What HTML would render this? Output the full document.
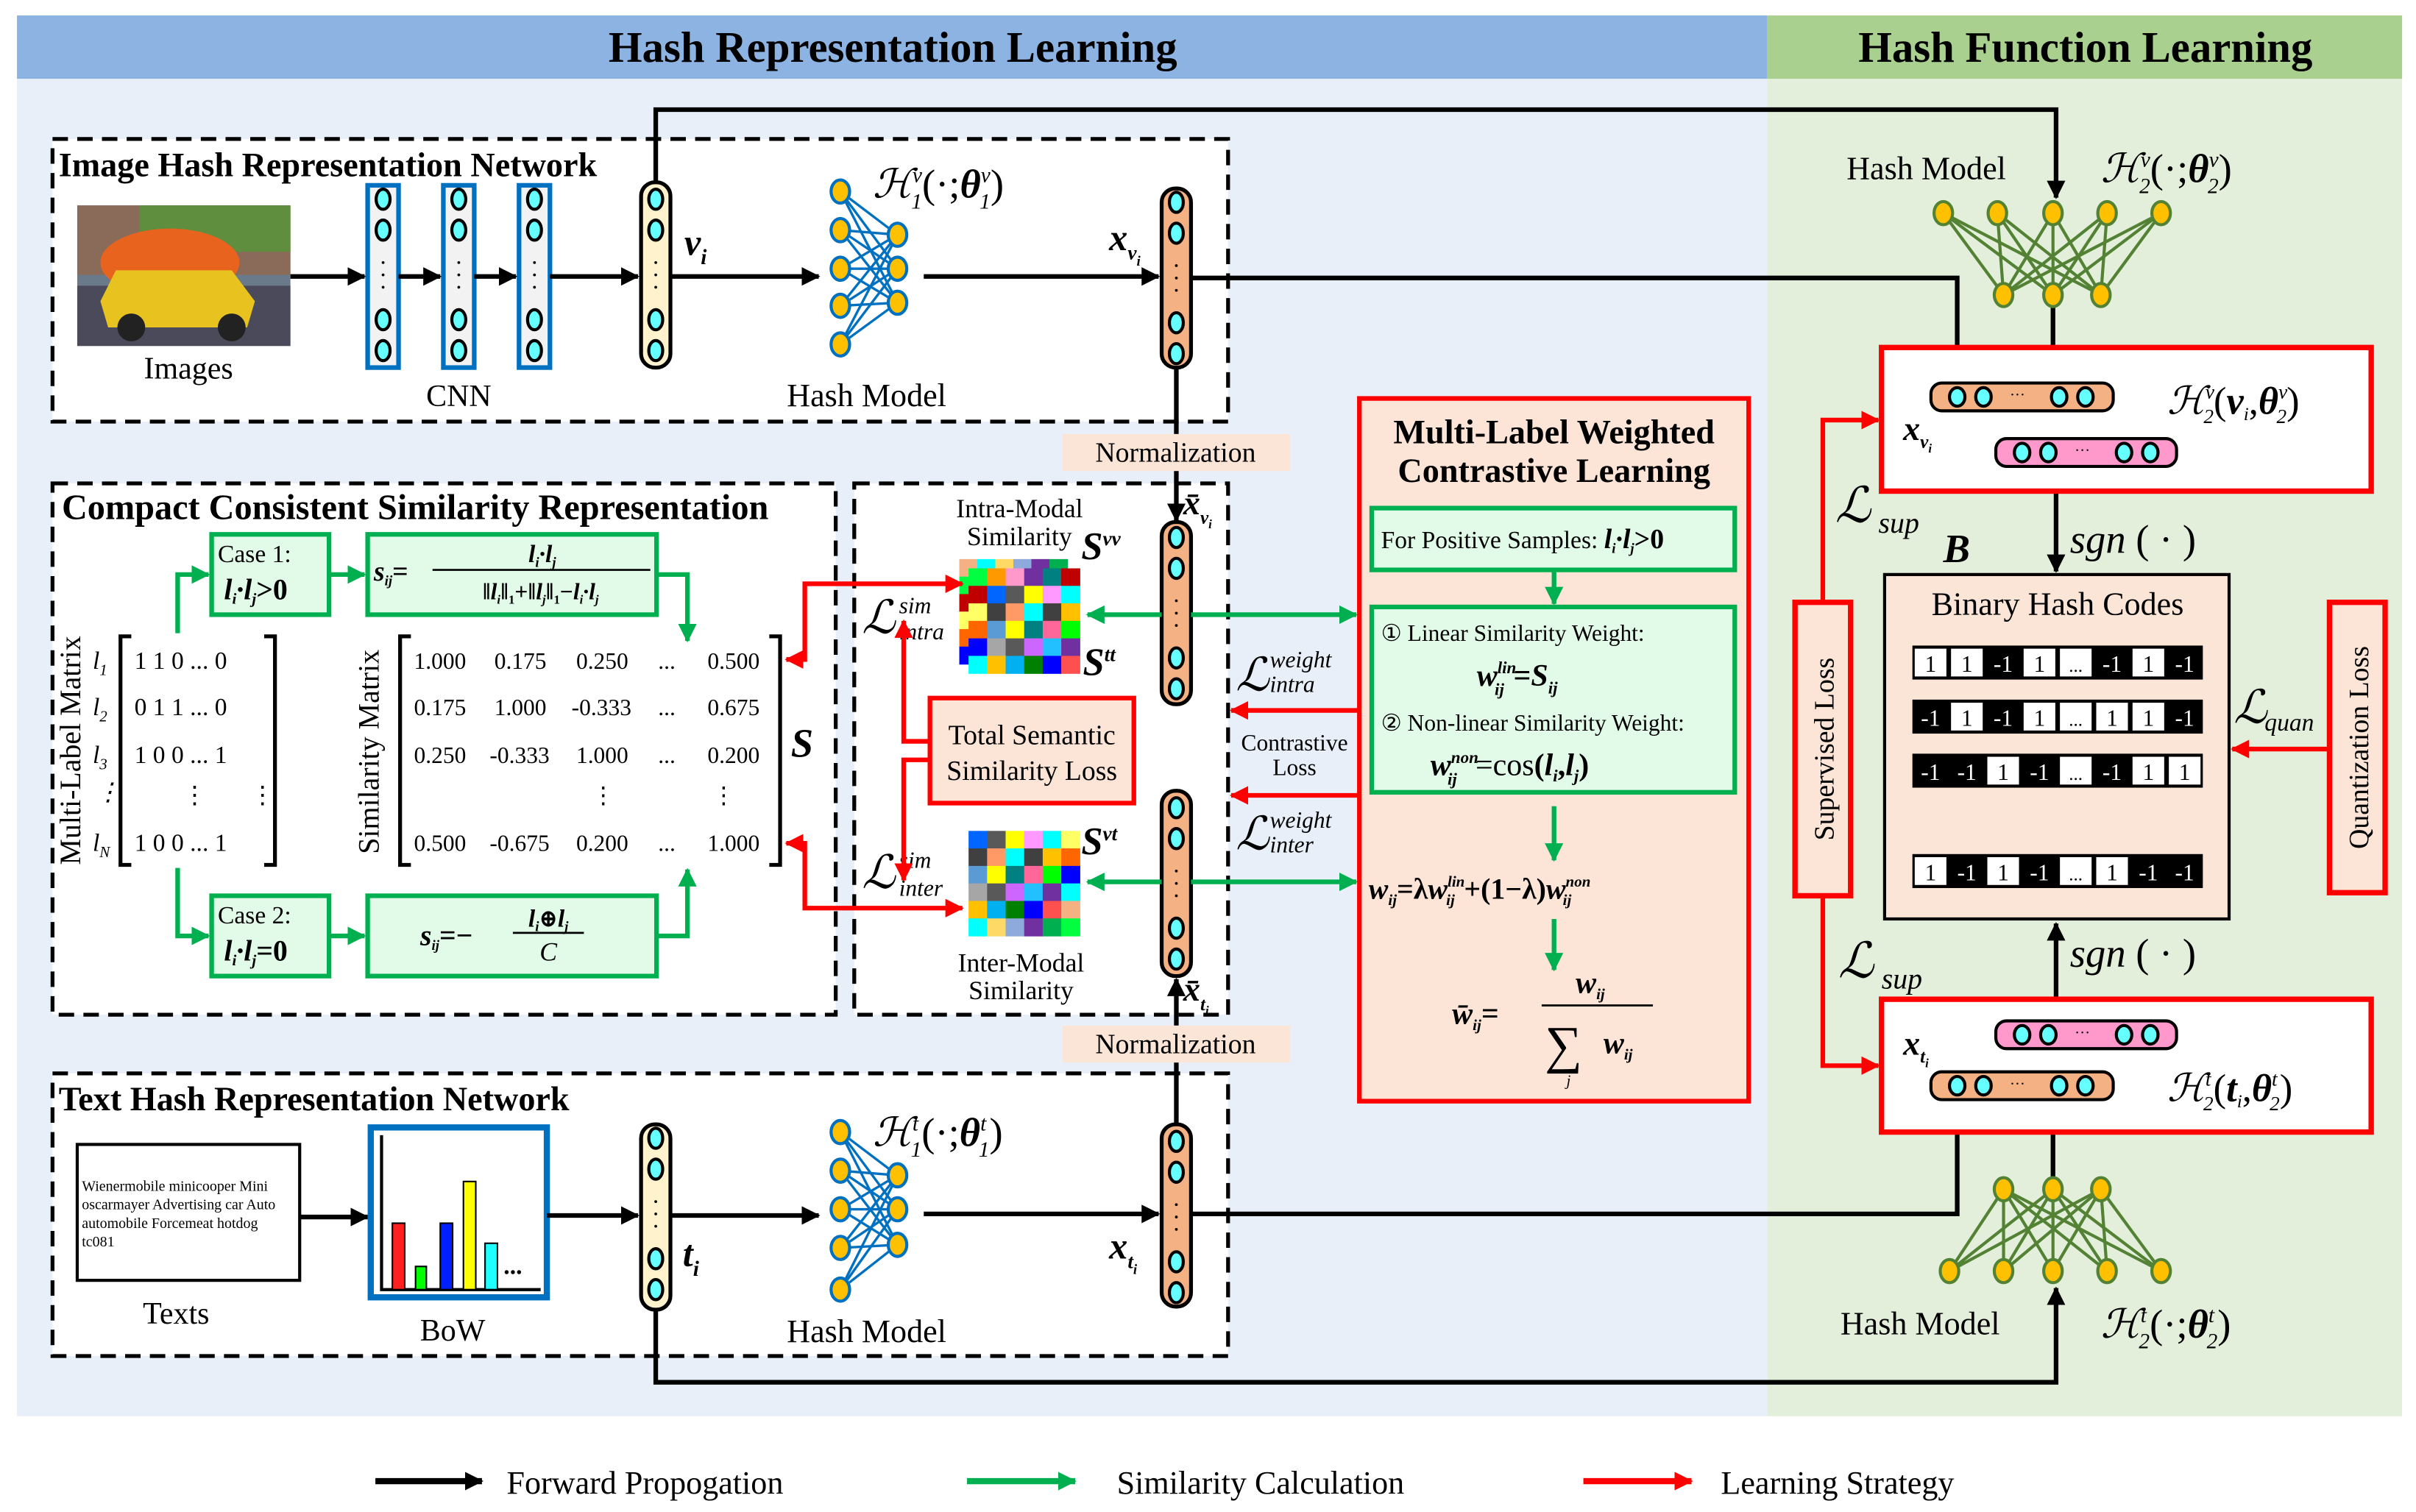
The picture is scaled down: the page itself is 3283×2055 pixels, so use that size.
<!DOCTYPE html>
<html><head><meta charset="utf-8">
<style>
html,body{margin:0;padding:0;background:#fff;}
svg{display:block;}
svg, text, tspan{font-family:"Liberation Serif","DejaVu Serif Condensed","DejaVu Serif",serif;}
.m{font-style:italic;font-weight:bold;}
</style></head>
<body>
<svg id="s" xmlns="http://www.w3.org/2000/svg" width="3283" height="2055" viewBox="0 0 1564 979" preserveAspectRatio="none">
<defs>
<marker id="ak2" markerWidth="12" markerHeight="12" refX="11" refY="6" orient="auto" markerUnits="userSpaceOnUse"><path d="M0,0 L12,6 L0,12 Z" fill="#000"/></marker>
<marker id="ag" markerWidth="12" markerHeight="12" refX="11" refY="6" orient="auto" markerUnits="userSpaceOnUse"><path d="M0,0 L12,6 L0,12 Z" fill="#00b050"/></marker>
<marker id="ar" markerWidth="12" markerHeight="12" refX="11" refY="6" orient="auto" markerUnits="userSpaceOnUse"><path d="M0,0 L12,6 L0,12 Z" fill="#ff0000"/></marker>
<marker id="ars" markerWidth="12" markerHeight="12" refX="11" refY="6" orient="auto-start-reverse" markerUnits="userSpaceOnUse"><path d="M0,0 L12,6 L0,12 Z" fill="#ff0000"/></marker>
<g id="circ4">
<ellipse cx="0" cy="11" rx="4.5" ry="6.5" fill="#66ffff" stroke="#000" stroke-width="2"/>
<ellipse cx="0" cy="31" rx="4.5" ry="6.5" fill="#66ffff" stroke="#000" stroke-width="2"/>
<ellipse cx="0" cy="89" rx="4.5" ry="6.5" fill="#66ffff" stroke="#000" stroke-width="2"/>
<ellipse cx="0" cy="109" rx="4.5" ry="6.5" fill="#66ffff" stroke="#000" stroke-width="2"/>
<circle cx="0" cy="52" r="0.9" fill="#000"/><circle cx="0" cy="60" r="0.9" fill="#000"/><circle cx="0" cy="68" r="0.9" fill="#000"/>
</g>
<g id="hcirc">
<ellipse cx="11" cy="0" rx="5" ry="6" fill="#66ffff" stroke="#000" stroke-width="2"/>
<ellipse cx="28" cy="0" rx="5" ry="6" fill="#66ffff" stroke="#000" stroke-width="2"/>
<text x="50" y="2" font-size="10" text-anchor="middle">···</text>
<ellipse cx="77" cy="0" rx="5" ry="6" fill="#66ffff" stroke="#000" stroke-width="2"/>
<ellipse cx="94" cy="0" rx="5" ry="6" fill="#66ffff" stroke="#000" stroke-width="2"/>
</g>
</defs>

<rect x="11" y="10" width="1133" height="907" fill="#e8eff9"/>
<rect x="1144" y="10" width="411" height="907" fill="#e3efdb"/>
<rect x="11" y="10" width="1133" height="41" fill="#8db3e2"/>
<rect x="1144" y="10" width="411" height="41" fill="#a9d08e"/>
<text x="578" y="40" font-size="28" font-weight="bold" text-anchor="middle">Hash Representation Learning</text>
<text x="1350" y="40" font-size="28" font-weight="bold" text-anchor="middle">Hash Function Learning</text>

<rect x="34" y="90" width="761" height="183" fill="#fff" stroke="#000" stroke-width="2.5" stroke-dasharray="10,6"/>
<rect x="34" y="313" width="507" height="344" fill="#fff" stroke="#000" stroke-width="2.5" stroke-dasharray="10,6"/>
<rect x="553" y="313" width="242" height="344" fill="#fff" stroke="#000" stroke-width="2.5" stroke-dasharray="10,6"/>
<rect x="34" y="695" width="761" height="183" fill="#fff" stroke="#000" stroke-width="2.5" stroke-dasharray="10,6"/>

<text x="38" y="114" font-size="22" font-weight="bold">Image Hash Representation Network</text>
<text x="40" y="336" font-size="23" font-weight="bold">Compact Consistent Similarity Representation</text>
<text x="38" y="719" font-size="22" font-weight="bold">Text Hash Representation Network</text>

<rect x="50" y="133" width="138" height="91" fill="#6a7a8a"/>
<rect x="50" y="133" width="138" height="45" fill="#8a6b5a"/>
<rect x="90" y="133" width="98" height="30" fill="#5e8e3e"/>
<rect x="50" y="185" width="138" height="39" fill="#4a4a5a"/>
<ellipse cx="110" cy="170" rx="45" ry="22" fill="#e8641e"/>
<path d="M65,195 L75,175 L150,175 L165,195 L160,212 L70,212 Z" fill="#e8c21e"/>
<circle cx="85" cy="212" r="9" fill="#222"/><circle cx="150" cy="212" r="9" fill="#222"/>
<text x="122" y="245" font-size="20" text-anchor="middle">Images</text>

<rect x="238" y="120" width="20" height="118" fill="#f2f2f2" stroke="#0070c0" stroke-width="3"/>
<use href="#circ4" x="248" y="118"/>
<rect x="287" y="120" width="20" height="118" fill="#f2f2f2" stroke="#0070c0" stroke-width="3"/>
<use href="#circ4" x="297" y="118"/>
<rect x="336" y="120" width="20" height="118" fill="#f2f2f2" stroke="#0070c0" stroke-width="3"/>
<use href="#circ4" x="346" y="118"/>
<text x="297" y="263" font-size="20" text-anchor="middle">CNN</text>
<line x1="188" y1="179" x2="236" y2="179" stroke="#000" stroke-width="3" marker-end="url(#ak2)"/>
<line x1="258" y1="179" x2="285" y2="179" stroke="#000" stroke-width="3" marker-end="url(#ak2)"/>
<line x1="307" y1="179" x2="334" y2="179" stroke="#000" stroke-width="3" marker-end="url(#ak2)"/>
<line x1="356" y1="179" x2="413" y2="179" stroke="#000" stroke-width="3" marker-end="url(#ak2)"/>

<rect x="415" y="118" width="19" height="120" rx="9" fill="#fff2cc" stroke="#000" stroke-width="2.5"/>
<use href="#circ4" x="424.5" y="118"/>
<text x="443" y="165" font-size="24" class="m">v<tspan font-size="14" dy="6">i</tspan></text>
<line x1="434" y1="179" x2="530" y2="179" stroke="#000" stroke-width="3" marker-end="url(#ak2)"/>

<g id="hm1" stroke="#0070c0" stroke-width="1.6"></g>
<text x="565" y="128" font-size="26" font-style="italic">ℋ<tspan font-size="14" dy="-10">v</tspan><tspan font-size="14" dx="-7" dy="17">1</tspan><tspan dy="-7" font-style="normal">(·;</tspan><tspan font-weight="bold">θ</tspan><tspan font-size="14" dy="-10">v</tspan><tspan font-size="14" dx="-7" dy="17">1</tspan><tspan dy="-7" font-style="normal">)</tspan></text>
<text x="561" y="263" font-size="21" text-anchor="middle">Hash Model</text>
<line x1="598" y1="179" x2="750" y2="179" stroke="#000" stroke-width="3" marker-end="url(#ak2)"/>

<rect x="752" y="122" width="19" height="116" rx="9" fill="#f4b183" stroke="#000" stroke-width="2.5"/>
<use href="#circ4" x="761.5" y="120"/>
<text x="718" y="162" font-size="24" class="m">x<tspan font-size="13" dy="6">v</tspan><tspan font-size="9" dy="4">i</tspan></text>

<line x1="761.5" y1="238" x2="761.5" y2="337" stroke="#000" stroke-width="3" marker-end="url(#ak2)"/>
<line x1="761.5" y1="728" x2="761.5" y2="634" stroke="#000" stroke-width="3" marker-end="url(#ak2)"/>
<rect x="688" y="281" width="147" height="24" fill="#fbe5d6"/>
<text x="761" y="299" font-size="18" text-anchor="middle">Normalization</text>
<rect x="688" y="664" width="147" height="24" fill="#fbe5d6"/>
<text x="761" y="682" font-size="18" text-anchor="middle">Normalization</text>

<rect x="752" y="338" width="19" height="118" rx="9" fill="#f4b183" stroke="#000" stroke-width="2.5"/>
<use href="#circ4" x="761.5" y="337"/>
<text x="766" y="333" font-size="22" class="m">x̄<tspan font-size="12" dy="6">v</tspan><tspan font-size="8" dy="3">i</tspan></text>
<rect x="752" y="512" width="19" height="120" rx="9" fill="#f4b183" stroke="#000" stroke-width="2.5"/>
<use href="#circ4" x="761.5" y="512"/>
<text x="766" y="648" font-size="22" class="m">x̄<tspan font-size="12" dy="6">t</tspan><tspan font-size="8" dy="3">i</tspan></text>

<g font-size="16">
<text x="52" y="560" font-size="19" transform="rotate(-90 52 560)">Multi-Label Matrix</text>
<path d="M85,412 L78,412 L78,560 L85,560" fill="none" stroke="#000" stroke-width="2.5"/>
<path d="M171,412 L178,412 L178,560 L171,560" fill="none" stroke="#000" stroke-width="2.5"/>
<g font-style="italic"><text x="60" y="433">l<tspan font-size="10" dy="4">1</tspan></text><text x="60" y="463">l<tspan font-size="10" dy="4">2</tspan></text><text x="60" y="494">l<tspan font-size="10" dy="4">3</tspan></text><text x="62" y="518">⋮</text><text x="60" y="551">l<tspan font-size="10" dy="4">N</tspan></text></g>
<text x="87" y="433">1 1 0  ...  0</text>
<text x="87" y="463">0 1 1  ...  0</text>
<text x="87" y="494">1 0 0  ...  1</text>
<text x="118" y="520">⋮</text><text x="162" y="520">⋮</text>
<text x="87" y="551">1 0 0  ...  1</text>

<text x="245" y="553" font-size="19" transform="rotate(-90 245 553)">Similarity Matrix</text>
<path d="M266,412 L259,412 L259,560 L266,560" fill="none" stroke="#000" stroke-width="2.5"/>
<path d="M498,412 L505,412 L505,560 L498,560" fill="none" stroke="#000" stroke-width="2.5"/>
<g font-size="15">
<text x="268" y="433">1.000</text><text x="320" y="433">0.175</text><text x="373" y="433">0.250</text><text x="426" y="433">...</text><text x="458" y="433">0.500</text>
<text x="268" y="463">0.175</text><text x="320" y="463">1.000</text><text x="370" y="463">-0.333</text><text x="426" y="463">...</text><text x="458" y="463">0.675</text>
<text x="268" y="494">0.250</text><text x="317" y="494">-0.333</text><text x="373" y="494">1.000</text><text x="426" y="494">...</text><text x="458" y="494">0.200</text>
<text x="383" y="520">⋮</text><text x="461" y="520">⋮</text>
<text x="268" y="551">0.500</text><text x="317" y="551">-0.675</text><text x="373" y="551">0.200</text><text x="426" y="551">...</text><text x="458" y="551">1.000</text>
</g>
<text x="512" y="490" font-size="26" class="m">S</text>
</g>

<rect x="137" y="346" width="76" height="52" fill="#e2fbe9" stroke="#00b050" stroke-width="3"/>
<text x="141" y="364" font-size="16">Case 1:</text>
<text x="145" y="388" font-size="19" class="m">l<tspan font-size="10" dy="3">i</tspan><tspan dy="-3">·l</tspan><tspan font-size="10" dy="3">j</tspan><tspan dy="-3" font-style="normal">&gt;0</tspan></text>
<rect x="238" y="346" width="187" height="52" fill="#e2fbe9" stroke="#00b050" stroke-width="3"/>
<text x="242" y="376" font-size="18" class="m">s<tspan font-size="9" dy="3">ij</tspan><tspan dy="-3" font-style="normal">=</tspan></text>
<line x1="280" y1="369" x2="421" y2="369" stroke="#000" stroke-width="1.3"/>
<text x="351" y="364" font-size="16" class="m" text-anchor="middle">l<tspan font-size="9" dy="3">i</tspan><tspan dy="-3">·l</tspan><tspan font-size="9" dy="3">j</tspan></text>
<text x="350" y="388" font-size="15" class="m" text-anchor="middle">‖l<tspan font-size="8" dy="3">i</tspan><tspan dy="-3">‖</tspan><tspan font-size="8" dy="3" font-style="normal">1</tspan><tspan dy="-3" font-style="normal">+</tspan>‖l<tspan font-size="8" dy="3">j</tspan><tspan dy="-3">‖</tspan><tspan font-size="8" dy="3" font-style="normal">1</tspan><tspan dy="-3" font-style="normal">−</tspan>l<tspan font-size="8" dy="3">i</tspan><tspan dy="-3">·l</tspan><tspan font-size="8" dy="3">j</tspan></text>

<rect x="137" y="580" width="76" height="52" fill="#e2fbe9" stroke="#00b050" stroke-width="3"/>
<text x="141" y="598" font-size="16">Case 2:</text>
<text x="145" y="622" font-size="19" class="m">l<tspan font-size="10" dy="3">i</tspan><tspan dy="-3">·l</tspan><tspan font-size="10" dy="3">j</tspan><tspan dy="-3" font-style="normal">=0</tspan></text>
<rect x="238" y="580" width="187" height="52" fill="#e2fbe9" stroke="#00b050" stroke-width="3"/>
<text x="272" y="612" font-size="19" class="m">s<tspan font-size="9" dy="3">ij</tspan><tspan dy="-3" font-style="normal">=−</tspan></text>
<line x1="332" y1="604" x2="378" y2="604" stroke="#000" stroke-width="1.3"/>
<text x="355" y="600" font-size="16" class="m" text-anchor="middle">l<tspan font-size="9" dy="3">i</tspan><tspan dy="-3" font-style="normal">⊕</tspan>l<tspan font-size="9" dy="3">j</tspan></text>
<text x="355" y="622" font-size="17" font-style="italic" text-anchor="middle">C</text>
<g stroke="#00b050" stroke-width="3" fill="none">
<polyline points="115,410 115,372 135,372" marker-end="url(#ag)"/>
<line x1="213" y1="372" x2="236" y2="372" marker-end="url(#ag)"/>
<polyline points="425,372 445,372 445,415" marker-end="url(#ag)"/>
<polyline points="115,562 115,606 135,606" marker-end="url(#ag)"/>
<line x1="213" y1="606" x2="236" y2="606" marker-end="url(#ag)"/>
<polyline points="425,606 445,606 445,563" marker-end="url(#ag)"/>
</g>

<g id="grids"></g>
<text x="660" y="335" font-size="17" text-anchor="middle">Intra-Modal</text>
<text x="660" y="353" font-size="17" text-anchor="middle">Similarity</text>
<text x="700" y="362" font-size="25" class="m">S<tspan font-size="13" dy="-9">vv</tspan></text>
<text x="701" y="437" font-size="25" class="m">S<tspan font-size="13" dy="-9">tt</tspan></text>
<text x="700" y="553" font-size="25" class="m">S<tspan font-size="13" dy="-9">vt</tspan></text>
<text x="661" y="629" font-size="17" text-anchor="middle">Inter-Modal</text>
<text x="661" y="647" font-size="17" text-anchor="middle">Similarity</text>
<text x="558" y="410" font-size="30" font-style="italic">ℒ</text>
<text x="582" y="397" font-size="15" font-style="italic">sim</text>
<text x="582" y="414" font-size="15" font-style="italic">intra</text>
<text x="558" y="575" font-size="30" font-style="italic">ℒ</text>
<text x="582" y="562" font-size="15" font-style="italic">sim</text>
<text x="582" y="580" font-size="15" font-style="italic">inter</text>

<rect x="602" y="452" width="132" height="68" fill="#fce4d6" stroke="#ff0000" stroke-width="3"/>
<text x="668" y="482" font-size="18" text-anchor="middle">Total Semantic</text>
<text x="668" y="505" font-size="18" text-anchor="middle">Similarity Loss</text>
<g stroke="#ff0000" stroke-width="3" fill="none">
<polyline points="602,480 585,480 585,402" marker-end="url(#ar)"/>
<polyline points="602,492 585,492 585,570" marker-end="url(#ar)"/>
<polyline points="509,427 521,427 521,378 623,378" marker-start="url(#ars)" marker-end="url(#ar)"/>
<polyline points="509,546 521,546 521,588 623,588" marker-start="url(#ars)" marker-end="url(#ar)"/>
<line x1="880" y1="460" x2="797" y2="460" marker-end="url(#ar)"/>
<line x1="880" y1="515" x2="797" y2="515" marker-end="url(#ar)"/>
</g>
<g stroke="#00b050" stroke-width="3" fill="none">
<line x1="752" y1="398" x2="704" y2="398" marker-end="url(#ag)"/>
<line x1="771" y1="398" x2="878" y2="398" marker-end="url(#ag)"/>
<line x1="752" y1="571" x2="704" y2="571" marker-end="url(#ag)"/>
<line x1="771" y1="571" x2="878" y2="571" marker-end="url(#ag)"/>
</g>
<text x="800" y="447" font-size="30" font-style="italic">ℒ</text>
<text x="822" y="432" font-size="15" font-style="italic">weight</text>
<text x="822" y="448" font-size="15" font-style="italic">intra</text>
<text x="838" y="486" font-size="15" text-anchor="middle">Contrastive</text>
<text x="838" y="502" font-size="15" text-anchor="middle">Loss</text>
<text x="800" y="550" font-size="30" font-style="italic">ℒ</text>
<text x="822" y="536" font-size="15" font-style="italic">weight</text>
<text x="822" y="552" font-size="15" font-style="italic">inter</text>

<rect x="880" y="258" width="252" height="455" fill="#fce4d6" stroke="#ff0000" stroke-width="3"/>
<text x="1006" y="287" font-size="22" font-weight="bold" text-anchor="middle">Multi-Label Weighted</text>
<text x="1006" y="312" font-size="22" font-weight="bold" text-anchor="middle">Contrastive Learning</text>
<rect x="888" y="329" width="235" height="40" fill="#e2fbe9" stroke="#00b050" stroke-width="3"/>
<text x="894" y="355" font-size="16">For Positive Samples: <tspan class="m" font-size="18">l<tspan font-size="9" dy="3">i</tspan><tspan dy="-3">·l</tspan><tspan font-size="9" dy="3">j</tspan><tspan dy="-3" font-style="normal">&gt;0</tspan></tspan></text>
<line x1="1006" y1="369" x2="1006" y2="391" stroke="#00b050" stroke-width="3" marker-end="url(#ag)"/>
<rect x="888" y="393" width="235" height="120" fill="#e2fbe9" stroke="#00b050" stroke-width="3"/>
<text x="894" y="415" font-size="15">① Linear Similarity Weight:</text>
<text x="956" y="444" font-size="20" class="m">w<tspan font-size="11" dy="-8">lin</tspan><tspan font-size="11" dx="-14" dy="14">ij</tspan><tspan dx="6" dy="-6" font-style="normal">=</tspan>S<tspan font-size="11" dy="5">ij</tspan></text>
<text x="894" y="473" font-size="15">② Non-linear Similarity Weight:</text>
<text x="926" y="502" font-size="20" class="m">w<tspan font-size="11" dy="-8">non</tspan><tspan font-size="11" dx="-20" dy="14">ij</tspan><tspan dx="12" dy="-6" font-style="normal" font-weight="normal">=cos</tspan><tspan font-style="normal">(</tspan>l<tspan font-size="11" dy="4">i</tspan><tspan dy="-4" font-style="normal">,</tspan>l<tspan font-size="11" dy="4">j</tspan><tspan dy="-4" font-style="normal">)</tspan></text>
<line x1="1006" y1="522" x2="1006" y2="557" stroke="#00b050" stroke-width="3" marker-end="url(#ag)"/>
<text x="886" y="582" font-size="19" class="m">w<tspan font-size="10" dy="4">ij</tspan><tspan dy="-4" font-style="normal">=λ</tspan>w<tspan font-size="10" dy="-8">lin</tspan><tspan font-size="10" dx="-12" dy="12">ij</tspan><tspan dx="6" dy="-4" font-style="normal">+(1−λ)</tspan>w<tspan font-size="10" dy="-8">non</tspan><tspan font-size="10" dx="-18" dy="12">ij</tspan></text>
<line x1="1006" y1="595" x2="1006" y2="628" stroke="#00b050" stroke-width="3" marker-end="url(#ag)"/>
<text x="940" y="663" font-size="20" class="m">w̄<tspan font-size="10" dy="4">ij</tspan><tspan dy="-4" font-style="normal">=</tspan></text>
<line x1="998" y1="651" x2="1070" y2="651" stroke="#000" stroke-width="1.3"/>
<text x="1020" y="643" font-size="20" class="m">w<tspan font-size="10" dy="4">ij</tspan></text>
<text x="1000" y="688" font-size="34">∑</text>
<text x="1038" y="682" font-size="20" class="m">w<tspan font-size="10" dy="4">ij</tspan></text>
<text x="1014" y="703" font-size="10" font-style="italic">j</text>

<rect x="50" y="741" width="144" height="88" fill="#fff" stroke="#000" stroke-width="2"/>
<text x="53" y="771" font-size="9.5">Wienermobile minicooper Mini</text>
<text x="53" y="783" font-size="9.5">oscarmayer Advertising car Auto</text>
<text x="53" y="795" font-size="9.5">automobile Forcemeat hotdog</text>
<text x="53" y="807" font-size="9.5">tc081</text>
<text x="114" y="857" font-size="20" text-anchor="middle">Texts</text>
<line x1="194" y1="788" x2="238" y2="788" stroke="#000" stroke-width="3" marker-end="url(#ak2)"/>
<rect x="240" y="730" width="114" height="110" fill="#fff" stroke="#0070c0" stroke-width="4"/>
<polyline points="247,735 247,835 350,835" fill="none" stroke="#000" stroke-width="2"/>
<rect x="254" y="792" width="8" height="43" fill="#ff2020" stroke="#000"/>
<rect x="269" y="820" width="7" height="15" fill="#00ff00" stroke="#000"/>
<rect x="285" y="792" width="8" height="43" fill="#0020ff" stroke="#000"/>
<rect x="300" y="765" width="8" height="70" fill="#ffff00" stroke="#000"/>
<rect x="314" y="805" width="8" height="30" fill="#20ffff" stroke="#000"/>
<text x="326" y="825" font-size="16" font-weight="bold">...</text>
<text x="293" y="868" font-size="20" text-anchor="middle">BoW</text>
<line x1="354" y1="787" x2="413" y2="787" stroke="#000" stroke-width="3" marker-end="url(#ak2)"/>
<rect x="415" y="728" width="19" height="120" rx="9" fill="#fff2cc" stroke="#000" stroke-width="2.5"/>
<use href="#circ4" x="424.5" y="726"/>
<text x="442" y="820" font-size="24" class="m">t<tspan font-size="14" dy="6">i</tspan></text>
<line x1="434" y1="787" x2="530" y2="787" stroke="#000" stroke-width="3" marker-end="url(#ak2)"/>
<g id="hm2" stroke="#0070c0" stroke-width="1.6"></g>
<text x="565" y="742" font-size="26" font-style="italic">ℋ<tspan font-size="14" dy="-10">t</tspan><tspan font-size="14" dx="-5" dy="17">1</tspan><tspan dy="-7" font-style="normal">(·;</tspan><tspan font-weight="bold">θ</tspan><tspan font-size="14" dy="-10">t</tspan><tspan font-size="14" dx="-5" dy="17">1</tspan><tspan dy="-7" font-style="normal">)</tspan></text>
<text x="561" y="869" font-size="21" text-anchor="middle">Hash Model</text>
<line x1="598" y1="786" x2="750" y2="786" stroke="#000" stroke-width="3" marker-end="url(#ak2)"/>
<rect x="752" y="728" width="19" height="118" rx="9" fill="#f4b183" stroke="#000" stroke-width="2.5"/>
<use href="#circ4" x="761.5" y="728"/>
<text x="718" y="815" font-size="24" class="m">x<tspan font-size="13" dy="6">t</tspan><tspan font-size="9" dy="4">i</tspan></text>

<g stroke="#000" stroke-width="3" fill="none">
<polyline points="424.5,118 424.5,71 1331,71 1331,128" marker-end="url(#ak2)"/>
<polyline points="771,180 1267,180 1267,246" marker-end="url(#ak2)"/>
<polyline points="1329,191 1329,237 1393,237 1393,281" marker-end="url(#ak2)"/>
<line x1="1331" y1="302" x2="1331" y2="370" marker-end="url(#ak2)"/>
<polyline points="424.5,848 424.5,895 1331,895 1331,834" marker-end="url(#ak2)"/>
<polyline points="771,786 1267,786 1267,713" marker-end="url(#ak2)"/>
<polyline points="1329,770 1329,723 1393,723 1393,681" marker-end="url(#ak2)"/>
<line x1="1331" y1="660" x2="1331" y2="598" marker-end="url(#ak2)"/>
</g>

<g id="hm3" stroke="#548235" stroke-width="2"></g>
<text x="1247" y="116" font-size="21" text-anchor="middle">Hash Model</text>
<text x="1360" y="118" font-size="26" font-style="italic">ℋ<tspan font-size="14" dy="-10">v</tspan><tspan font-size="14" dx="-7" dy="17">2</tspan><tspan dy="-7" font-style="normal">(·;</tspan><tspan font-weight="bold">θ</tspan><tspan font-size="14" dy="-10">v</tspan><tspan font-size="14" dx="-7" dy="17">2</tspan><tspan dy="-7" font-style="normal">)</tspan></text>
<text x="1243" y="864" font-size="21" text-anchor="middle">Hash Model</text>
<text x="1360" y="866" font-size="26" font-style="italic">ℋ<tspan font-size="14" dy="-10">t</tspan><tspan font-size="14" dx="-5" dy="17">2</tspan><tspan dy="-7" font-style="normal">(·;</tspan><tspan font-weight="bold">θ</tspan><tspan font-size="14" dy="-10">t</tspan><tspan font-size="14" dx="-5" dy="17">2</tspan><tspan dy="-7" font-style="normal">)</tspan></text>

<rect x="1218" y="225" width="317" height="93" fill="#fff" stroke="#ff0000" stroke-width="3.5"/>
<rect x="1250" y="248" width="118" height="18" rx="7" fill="#f4b183" stroke="#000" stroke-width="2"/>
<use href="#hcirc" x="1256" y="257"/>
<rect x="1292" y="284" width="117" height="18" rx="7" fill="#ff99cc" stroke="#000" stroke-width="2"/>
<use href="#hcirc" x="1298" y="293"/>
<text x="1232" y="285" font-size="22" class="m">x<tspan font-size="12" dy="5">v</tspan><tspan font-size="8" dy="3">i</tspan></text>
<text x="1403" y="268" font-size="25" font-style="italic">ℋ<tspan font-size="13" dy="-10">v</tspan><tspan font-size="13" dx="-7" dy="16">2</tspan><tspan dy="-6" font-style="normal">(</tspan><tspan font-weight="bold">v</tspan><tspan font-size="12" dy="4">i</tspan><tspan dy="-4" font-style="normal">,</tspan><tspan font-weight="bold">θ</tspan><tspan font-size="13" dy="-10">v</tspan><tspan font-size="13" dx="-7" dy="16">2</tspan><tspan dy="-6" font-style="normal">)</tspan></text>
<rect x="1218" y="647" width="317" height="86" fill="#fff" stroke="#ff0000" stroke-width="3.5"/>
<rect x="1292" y="661" width="117" height="18" rx="7" fill="#ff99cc" stroke="#000" stroke-width="2"/>
<use href="#hcirc" x="1298" y="670"/>
<rect x="1250" y="694" width="118" height="18" rx="7" fill="#f4b183" stroke="#000" stroke-width="2"/>
<use href="#hcirc" x="1256" y="703"/>
<text x="1232" y="683" font-size="22" class="m">x<tspan font-size="12" dy="5">t</tspan><tspan font-size="8" dy="3">i</tspan></text>
<text x="1403" y="713" font-size="25" font-style="italic">ℋ<tspan font-size="13" dy="-10">t</tspan><tspan font-size="13" dx="-5" dy="16">2</tspan><tspan dy="-6" font-style="normal">(</tspan><tspan font-weight="bold">t</tspan><tspan font-size="12" dy="4">i</tspan><tspan dy="-4" font-style="normal">,</tspan><tspan font-weight="bold">θ</tspan><tspan font-size="13" dy="-10">t</tspan><tspan font-size="13" dx="-5" dy="16">2</tspan><tspan dy="-6" font-style="normal">)</tspan></text>

<text x="1340" y="358" font-size="26" font-style="italic">sgn<tspan font-style="normal"> ( · )</tspan></text>
<text x="1340" y="626" font-size="26" font-style="italic">sgn<tspan font-style="normal"> ( · )</tspan></text>
<text x="1258" y="364" font-size="26" class="m">B</text>
<text x="1188" y="338" font-size="32" font-style="italic">ℒ</text><text x="1216" y="345" font-size="19" font-style="italic">sup</text>
<text x="1190" y="633" font-size="32" font-style="italic">ℒ</text><text x="1218" y="640" font-size="19" font-style="italic">sup</text>

<rect x="1220" y="372" width="223" height="223" fill="#fbe5d6" stroke="#000" stroke-width="2"/>
<text x="1332" y="398" font-size="21" text-anchor="middle">Binary Hash Codes</text>
<g id="codes"></g>

<rect x="1162" y="390" width="36" height="190" fill="#fce4d6" stroke="#ff0000" stroke-width="3.5"/>
<text x="1187" y="485" font-size="18" text-anchor="middle" transform="rotate(-90 1187 485)">Supervised Loss</text>
<rect x="1508" y="390" width="36" height="188" fill="#fce4d6" stroke="#ff0000" stroke-width="3.5"/>
<text x="1533" y="484" font-size="18" text-anchor="middle" transform="rotate(-90 1533 484)">Quantization Loss</text>
<text x="1446" y="468" font-size="30" font-style="italic">ℒ</text><text x="1466" y="473" font-size="16" font-style="italic">quan</text>
<g stroke="#ff0000" stroke-width="3" fill="none">
<polyline points="1180,390 1180,272 1216,272" marker-end="url(#ar)"/>
<polyline points="1180,580 1180,690 1216,690" marker-end="url(#ar)"/>
<line x1="1508" y1="485" x2="1445" y2="485" marker-end="url(#ar)"/>
</g>

<line x1="243" y1="959" x2="312" y2="959" stroke="#000" stroke-width="4" marker-end="url(#ak2)"/>
<text x="328" y="967" font-size="21">Forward Propogation</text>
<line x1="626" y1="959" x2="696" y2="959" stroke="#00b050" stroke-width="4" marker-end="url(#ag)"/>
<text x="723" y="967" font-size="21">Similarity Calculation</text>
<line x1="1025" y1="959" x2="1095" y2="959" stroke="#ff0000" stroke-width="4" marker-end="url(#ar)"/>
<text x="1114" y="967" font-size="21">Learning Strategy</text>
</svg>
<script>
var NS="http://www.w3.org/2000/svg";
function el(p,t,a){var e=document.createElementNS(NS,t);for(var k in a)e.setAttribute(k,a[k]);p.appendChild(e);return e;}
function net(g,L,R,col){
 L.forEach(function(a){R.forEach(function(b){el(g,"line",{x1:a[0],y1:a[1],x2:b[0],y2:b[1]});});});
 L.concat(R).forEach(function(p){el(g,"ellipse",{cx:p[0],cy:p[1],rx:6,ry:7.5,fill:"#ffc000",stroke:col,"stroke-width":2});});
}
function lcol(x,ys){return ys.map(function(y){return [x,y];});}
net(document.getElementById("hm1"),lcol(544,[124,149,174,198,223]),lcol(581,[152,174,196]),"#0070c0");
net(document.getElementById("hm2"),lcol(544,[733,758,783,808,835]),lcol(581,[761,783,806]),"#0070c0");
var g3=document.getElementById("hm3");
net(g3,[[1258,138],[1293,138],[1329,138],[1364,138],[1399,138]],[[1297,191],[1329,191],[1360,191]],"#548235");
net(g3,[[1297,770],[1329,770],[1360,770]],[[1262,823],[1297,823],[1329,823],[1364,823],[1399,823]],"#548235");
var pal=["#f4b183","#00ffff","#ffd966","#8ea9db","#7030a0","#00b050","#00ff40","#ff9900","#ff99cc","#7030a0","#008080","#c00000","#c00000","#0066ff","#595959","#ffff00","#ff99ff","#00ffff","#ffff66","#404040","#ff9966","#00ffff","#404040","#ffc000","#ff6600","#5b9bd5","#ffff00","#008080","#ff6699","#00ff00","#0000ff","#a6a6a6","#595959","#cc66ff","#22c0ff","#7030a0","#00ffff","#ffc000","#00b0f0","#008000","#0000ff","#ff5050"];
var gg=document.getElementById("grids");
function grid(x,y,w,h,off){var n=6,cw=w/n,ch=h/n;for(var r=0;r<n;r++)for(var c=0;c<n;c++){el(gg,"rect",{x:x+c*cw,y:y+r*ch,width:cw+0.3,height:ch+0.3,fill:pal[(r*6+c+off)%pal.length]});}}
grid(621,362,70,68,0);grid(627,368,72,68,6);
grid(627,538,72,68,13);
var rows=[[1,1,-1,1,0,-1,1,-1],[-1,1,-1,1,0,1,1,-1],[-1,-1,1,-1,0,-1,1,1],[1,-1,1,-1,0,1,-1,-1]];
var ys=[418,453,488,553];
var cg=document.getElementById("codes");
rows.forEach(function(r,i){el(cg,"rect",{x:1238,y:ys[i],width:188,height:22,fill:"#000"});
 var cw=188/8;
 r.forEach(function(v,j){var xx=1238+j*cw;
  if(v!=-1){el(cg,"rect",{x:xx+1.5,y:ys[i]+2,width:cw-3,height:18,fill:"#fff"});}
  var t=el(cg,"text",{x:xx+cw/2,y:ys[i]+17,"font-size":v==0?12:15,"text-anchor":"middle",fill:v==-1?"#fff":"#000"});
  t.textContent=v==1?"1":(v==0?"...":"-1");
 });
});
</script>
</body></html>
